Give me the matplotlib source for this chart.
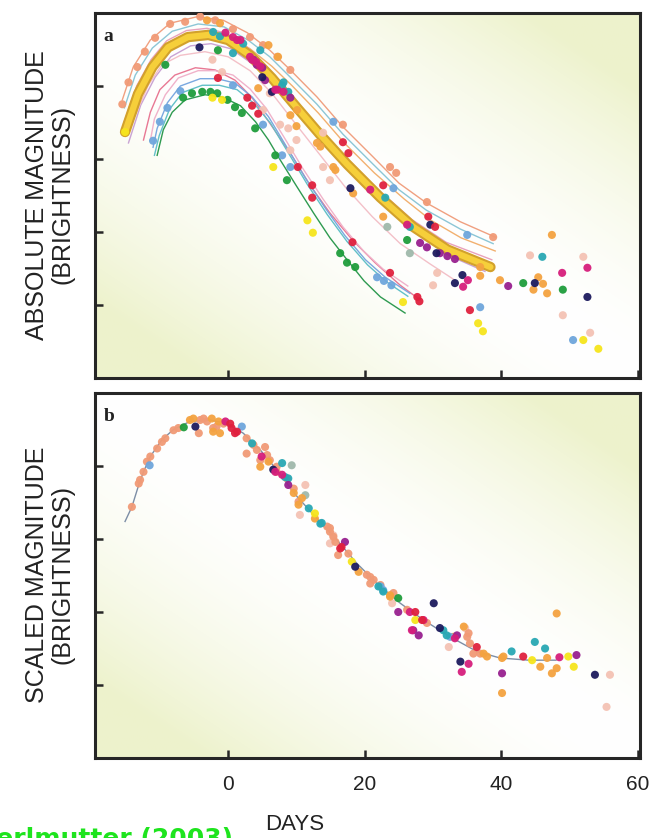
import numpy as np
import matplotlib.pyplot as plt

# ---------------- panel a: fitted light curves (day, absolute magnitude) ----------------
curve_salmon = [(-15.5, -19.81), (-13.9, -20.26), (-11.4, -20.63), (-8.5, -20.86), (-4.5, -20.95),
                (-0.7, -20.90), (2.8, -20.73), (6.1, -20.49), (9.1, -20.22), (13.0, -19.85),
                (16.8, -19.44), (21.2, -19.03), (25.0, -18.67), (29.0, -18.40), (34.0, -18.14), (39.1, -17.93)]
curve_teal_top = [(-15.2, -19.70), (-13.6, -20.15), (-11.1, -20.52), (-8.2, -20.75), (-4.4, -20.85),
                  (-0.6, -20.81), (2.9, -20.63), (6.1, -20.40), (9.1, -20.12), (13.0, -19.75),
                  (16.8, -19.34), (21.2, -18.93), (25.0, -18.58), (29.0, -18.30), (34.0, -18.04), (38.8, -17.84)]
curve_orange = [(-14.9, -19.56), (-13.3, -20.01), (-10.8, -20.40), (-7.9, -20.63), (-4.1, -20.73),
                (-0.3, -20.69), (3.2, -20.51), (6.4, -20.27), (9.4, -20.00), (13.2, -19.63),
                (17.0, -19.22), (21.4, -18.81), (25.8, -18.45), (29.7, -18.16), (34.1, -17.92), (39.1, -17.74)]
curve_pink_hi = [(-15.3, -19.49), (-13.4, -20.00), (-11.3, -20.36), (-9.0, -20.62), (-6.1, -20.76),
                 (-3.1, -20.79), (-0.2, -20.72), (3.0, -20.52), (6.2, -20.21), (9.9, -19.80),
                 (13.3, -19.43), (17.2, -19.03), (22.1, -18.57), (26.9, -18.17), (31.9, -17.86), (38.6, -17.62)]
curve_gold = [(-15.1, -19.37), (-13.2, -19.89), (-11.1, -20.26), (-8.8, -20.53), (-5.9, -20.67),
              (-2.9, -20.70), (0.0, -20.63), (3.2, -20.42), (6.4, -20.11), (10.1, -19.70),
              (13.5, -19.33), (17.4, -18.93), (22.3, -18.47), (27.1, -18.07), (32.1, -17.76), (38.4, -17.52)]
curve_lavender = [(-14.6, -19.22), (-12.8, -19.74), (-10.7, -20.12), (-8.4, -20.40), (-5.5, -20.55),
                  (-2.5, -20.58), (0.4, -20.51), (3.6, -20.30), (6.8, -19.99), (10.5, -19.58),
                  (13.9, -19.21), (17.8, -18.82), (22.7, -18.37), (27.5, -17.98), (32.5, -17.67), (37.6, -17.46)]
curve_pale = [(-13.5, -19.62), (-11.7, -20.01), (-9.7, -20.29), (-7.0, -20.42), (-3.4, -20.47),
              (0.0, -20.40), (3.2, -20.21), (6.4, -19.90), (9.8, -19.49), (13.5, -19.05),
              (17.1, -18.62), (21.1, -18.21), (25.2, -17.84), (29.6, -17.56), (33.2, -17.34)]
curve_red = [(-12.4, -19.26), (-11.4, -19.64), (-10.0, -19.95), (-7.8, -20.15), (-4.8, -20.25),
             (-1.9, -20.22), (1.0, -20.08), (3.5, -19.84), (6.1, -19.49), (9.1, -19.08),
             (12.0, -18.64), (14.9, -18.26), (18.2, -17.89), (21.5, -17.58), (25.2, -17.27), (28.1, -17.07)]
curve_pink_lo = [(-11.4, -19.25), (-10.8, -19.55), (-9.2, -19.88), (-7.3, -20.11), (-4.4, -20.21),
                 (-1.9, -20.21), (0.7, -20.15), (3.2, -19.96), (5.6, -19.69), (8.3, -19.28),
                 (11.0, -18.86), (13.9, -18.45), (16.8, -18.07), (19.8, -17.74), (22.7, -17.49), (26.3, -17.26)]
curve_blue = [(-11.0, -19.16), (-10.4, -19.42), (-8.9, -19.77), (-7.0, -20.00), (-4.1, -20.10),
              (-1.6, -20.10), (1.0, -20.04), (3.5, -19.85), (5.9, -19.58), (8.6, -19.16),
              (11.3, -18.74), (14.2, -18.33), (17.1, -17.95), (20.1, -17.62), (23.0, -17.38), (26.6, -17.16)]
curve_teal = [(-10.8, -19.05), (-10.1, -19.32), (-8.6, -19.68), (-6.7, -19.91), (-3.8, -20.01),
              (-1.3, -20.01), (1.3, -19.95), (3.8, -19.76), (6.2, -19.49), (8.9, -19.07),
              (11.6, -18.65), (14.5, -18.24), (17.4, -17.87), (20.4, -17.55), (23.3, -17.31), (26.3, -17.12)]
curve_green = [(-10.4, -19.05), (-9.5, -19.40), (-8.2, -19.64), (-6.3, -19.81), (-3.4, -19.88),
               (-0.9, -19.85), (1.8, -19.73), (4.0, -19.51), (5.9, -19.26), (7.6, -18.99),
               (10.0, -18.63), (12.5, -18.26), (14.9, -17.92), (17.4, -17.62), (19.9, -17.33),
               (22.3, -17.11), (25.9, -16.89)]

# ---------------- panel a: observations, grouped by colour ----------------
a_salmon = [(-15.5, -19.75), (-14.6, -20.05), (-13.3, -20.26), (-12.2, -20.47), (-10.7, -20.66),
            (-8.5, -20.85), (-6.3, -20.88), (-4.1, -20.95), (-1.9, -20.90), (0.7, -20.78),
            (3.2, -20.67), (5.1, -20.56), (7.2, -20.40), (9.1, -20.22), (16.8, -19.47),
            (23.7, -18.89), (24.6, -18.81), (29.1, -18.41), (38.8, -17.93)]
a_orange = [(-3.1, -20.90), (-1.2, -20.86), (5.9, -20.56), (7.3, -20.40), (4.4, -19.97),
            (9.1, -19.60), (10.0, -19.45), (10.1, -19.67), (13.0, -19.22), (13.5, -19.17),
            (15.4, -18.89), (15.7, -18.85), (18.3, -18.53), (22.7, -18.21), (36.9, -17.52),
            (36.9, -17.40), (39.8, -17.34), (45.4, -17.38), (46.1, -17.29), (44.7, -17.21),
            (46.7, -17.16), (47.4, -17.96)]
a_yellow = [(-15.1, -19.37), (-2.3, -19.84), (-0.9, -19.81), (6.6, -18.89), (11.6, -18.16),
            (12.4, -17.99), (25.6, -17.04), (36.6, -16.75), (37.3, -16.64), (52.0, -16.52),
            (54.2, -16.40)]
a_green = [(-9.2, -20.29), (-1.5, -20.49), (-6.6, -19.84), (-5.3, -19.90), (-3.8, -19.92),
           (-2.6, -19.92), (-1.6, -19.90), (-0.1, -19.81), (1.0, -19.71), (2.0, -19.63),
           (3.95, -19.42), (6.9, -19.05), (8.6, -18.71), (16.4, -17.71), (17.4, -17.58),
           (18.6, -17.52), (26.2, -17.89), (43.2, -17.30), (49.0, -17.21)]
a_red = [(-1.5, -20.11), (2.8, -19.84), (3.5, -19.73), (4.4, -19.62), (10.2, -18.89),
         (12.3, -18.64), (12.3, -18.47), (18.2, -17.86), (16.8, -19.23), (17.6, -19.08),
         (22.7, -18.64), (23.7, -17.44), (27.7, -17.11), (28.0, -17.05), (29.3, -18.21),
         (30.3, -18.07), (35.4, -16.93)]
a_magenta = [(-0.4, -20.73), (0.7, -20.67), (1.3, -20.63), (1.8, -20.63), (3.2, -20.40),
             (3.5, -20.36), (4.1, -20.33), (4.7, -20.27), (6.9, -19.95), (7.2, -19.95),
             (8.1, -19.92), (20.8, -18.58), (26.2, -18.10), (35.1, -17.34), (34.4, -17.25),
             (48.9, -17.44), (52.6, -17.51)]
a_purple = [(3.7, -20.36), (4.2, -20.29), (5.0, -20.25), (5.4, -20.08), (9.1, -19.84),
            (28.1, -17.85), (29.1, -17.79), (31.0, -17.71), (32.1, -17.67), (33.2, -17.63),
            (41.0, -17.26)]
a_navy = [(-4.2, -20.53), (5.0, -20.12), (6.4, -19.92), (17.9, -18.60), (29.6, -18.10),
          (30.5, -17.71), (33.2, -17.30), (34.3, -17.41), (44.9, -17.30), (52.6, -17.11)]
a_lightblue = [(-11.0, -19.25), (-10.0, -19.51), (-8.9, -19.70), (-7.0, -19.93), (0.7, -20.01),
               (5.1, -19.47), (7.9, -19.05), (9.1, -18.89), (21.8, -17.38), (22.8, -17.33),
               (23.9, -17.27), (15.4, -19.51), (24.2, -18.60), (35.0, -17.96), (36.9, -16.97),
               (50.5, -16.52)]
a_teal = [(-2.2, -20.74), (-1.2, -20.68), (0.7, -20.45), (2.2, -20.58), (4.7, -20.49),
          (7.9, -20.01), (8.1, -20.05), (8.8, -19.92), (23.0, -18.47), (26.6, -18.07),
          (46.0, -17.66)]
a_pale = [(-2.3, -20.36), (-0.9, -20.19), (5.1, -19.67), (6.1, -19.90), (7.6, -19.47),
          (9.1, -19.12), (8.8, -19.42), (10.0, -19.26), (13.9, -19.36), (13.9, -18.89),
          (14.9, -18.71), (30.6, -17.44), (30.0, -17.27), (49.0, -16.86), (53.0, -16.62),
          (52.0, -17.66), (44.2, -17.68)]
a_sage = [(23.3, -18.07), (26.6, -17.71)]

# ---------------- panel b: template curve and stretch-corrected points ----------------
tmpl_day = [-15.1, -14.1, -13.1, -12.4, -11.4, -9.7, -8.0, -5.6, -2.6, -0.2, 2.2, 4.7, 7.1,
            10.1, 13.0, 15.9, 18.8, 21.8, 25.2, 28.6, 32.5, 36.4, 39.8, 44.0, 48.0]
tmpl_mag = [-19.24, -19.44, -19.74, -19.92, -20.13, -20.36, -20.50, -20.61, -20.63, -20.58,
            -20.45, -20.22, -19.95, -19.58, -19.28, -18.99, -18.67, -18.39, -18.12, -17.89,
            -17.66, -17.46, -17.37, -17.34, -17.34]

b_salmon = [(-14.1, -19.44), (-13.1, -19.76), (-12.9, -19.81), (-12.4, -19.92), (-11.9, -20.06),
            (-11.4, -20.13), (-10.4, -20.24), (-9.7, -20.33), (-9.2, -20.38), (-8.0, -20.49),
            (-7.3, -20.52), (-4.3, -20.45), (-4.1, -20.63), (-3.6, -20.65), (-3.1, -20.61),
            (-2.2, -20.52), (-1.7, -20.54), (-0.7, -20.58), (2.7, -20.38), (2.7, -20.17),
            (3.7, -20.29), (4.2, -20.22), (4.7, -20.08), (5.4, -20.26), (5.7, -20.15),
            (6.1, -20.08), (7.1, -19.92), (7.1, -19.99), (8.6, -19.83), (9.6, -19.69),
            (10.3, -19.51), (14.5, -19.17), (14.9, -19.10), (14.9, -19.15), (15.4, -19.03),
            (15.7, -18.96), (16.1, -18.78), (17.6, -18.80), (20.3, -18.51), (20.8, -18.48),
            (20.8, -18.39), (21.3, -18.44), (22.3, -18.37), (24.2, -18.26), (26.2, -18.03),
            (29.1, -17.85), (35.0, -17.66), (35.2, -17.71), (35.4, -17.57), (35.9, -17.43),
            (36.9, -17.43)]
b_orange = [(-5.6, -20.63), (-5.1, -20.65), (-2.4, -20.65), (-1.4, -20.61), (-1.2, -20.45),
            (-2.2, -20.47), (4.7, -19.99), (5.9, -20.06), (9.6, -19.63), (10.3, -19.47),
            (10.8, -19.56), (12.7, -19.28), (19.1, -18.55), (23.7, -18.23), (23.7, -18.21),
            (33.0, -17.66), (34.5, -17.80), (37.4, -17.43), (37.9, -17.39), (40.3, -17.39),
            (40.1, -17.37), (48.1, -17.98), (45.7, -17.25), (46.7, -17.37), (47.4, -17.16),
            (48.1, -17.23), (40.1, -16.89)]
b_green = [(-6.5, -20.53), (24.9, -18.19)]
b_navy = [(-4.8, -20.54), (6.6, -19.95), (18.6, -18.62), (30.1, -18.12), (31.0, -17.78),
          (34.0, -17.32), (53.7, -17.14)]
b_magenta = [(-0.4, -20.61), (4.9, -20.13), (6.9, -19.92), (7.9, -19.88), (26.6, -18.00),
             (26.9, -17.75), (28.6, -17.89), (33.2, -17.64), (34.2, -17.18), (35.2, -17.29),
             (48.5, -17.38)]
b_red = [(0.3, -20.58), (0.5, -20.52), (1.0, -20.45), (1.3, -20.47), (16.4, -18.87),
         (16.6, -18.89), (27.4, -18.00), (28.4, -17.89), (36.4, -17.52), (43.2, -17.39)]
b_lightblue = [(-11.5, -20.01), (2.0, -20.54), (22.3, -18.35), (22.7, -18.30), (32.5, -17.66)]
b_teal = [(3.5, -20.31), (7.9, -20.04), (8.3, -19.85), (8.8, -19.83), (11.8, -19.42),
          (13.5, -19.21), (13.7, -19.22), (22.0, -18.35), (22.7, -18.28), (31.5, -17.75),
          (32.0, -17.68), (44.9, -17.59), (46.4, -17.50), (41.5, -17.46)]
b_purple = [(8.8, -19.74), (17.1, -18.96), (24.9, -18.00), (27.1, -17.75), (27.9, -17.68),
            (33.5, -17.68), (40.1, -17.16), (51.0, -17.41)]
b_yellow = [(12.7, -19.35), (18.1, -18.69), (27.4, -17.89), (44.5, -17.34), (49.8, -17.39),
            (50.6, -17.25)]
b_pale = [(11.3, -19.74), (10.5, -19.33), (14.9, -18.94), (15.4, -19.05), (24.0, -18.12),
          (34.7, -17.78), (32.3, -17.52), (55.9, -17.14), (55.4, -16.70)]
b_sage = [(9.3, -20.01), (11.3, -19.60)]

# ---------------- styling ----------------
dot_colors = {
    'salmon': '#f19a76', 'orange': '#f4a340', 'yellow': '#f6e51c', 'green': '#1f9d3c',
    'red': '#e0213e', 'magenta': '#d61e7c', 'purple': '#98208f', 'navy': '#1d1b5e',
    'lightblue': '#6fa6dc', 'teal': '#29a8b4', 'pale': '#f4c2b4', 'sage': '#9fb9ab',
}
a_points = {'pale': a_pale, 'sage': a_sage, 'salmon': a_salmon, 'orange': a_orange,
            'lightblue': a_lightblue, 'teal': a_teal, 'green': a_green, 'yellow': a_yellow,
            'purple': a_purple, 'navy': a_navy, 'magenta': a_magenta, 'red': a_red}
b_points = {'pale': b_pale, 'sage': b_sage, 'salmon': b_salmon, 'orange': b_orange,
            'lightblue': b_lightblue, 'teal': b_teal, 'green': b_green, 'yellow': b_yellow,
            'purple': b_purple, 'navy': b_navy, 'magenta': b_magenta, 'red': b_red}
thin_curves = [(curve_salmon, '#f0a080'), (curve_teal_top, '#8cc6d6'), (curve_orange, '#f2b070'),
               (curve_pink_hi, '#e9a2bb'), (curve_lavender, '#c9a3d4'), (curve_pale, '#f3c0c8'),
               (curve_red, '#e87894'), (curve_pink_lo, '#f0b2ca'), (curve_blue, '#7aa8e0'),
               (curve_teal, '#62c0c8'), (curve_green, '#2e9a50')]

plt.rcParams['font.family'] = ['Liberation Sans', 'DejaVu Sans']

fig = plt.figure(figsize=(6.61, 8.38), dpi=100)
ax_a = fig.add_axes([95 / 661, 1 - 378 / 838, 545 / 661, 365 / 838])
ax_b = fig.add_axes([95 / 661, 1 - 758 / 838, 545 / 661, 365 / 838])


def paint_background(ax):
    # faint yellow-green tint in two opposite corners, white along the other diagonal
    g = np.linspace(0, 1, 200)
    uu, vv = np.meshgrid(g, g)
    w = np.clip(np.abs(uu + vv - 1) * 1.25, 0, 1) ** 1.7
    corner = np.array([0.93, 0.95, 0.80])
    img = 1 - w[..., None] * (1 - corner)
    ax.imshow(img, extent=(0, 1, 0, 1), transform=ax.transAxes, origin='lower',
              aspect='auto', zorder=0, interpolation='bilinear')


def dress(ax, letter):
    paint_background(ax)
    ax.set_xlim(-19.5, 60.3)
    ax.set_ylim(-16.0, -21.0)
    ax.set_xticks([0, 20, 40, 60])
    ax.set_yticks([-20, -19, -18, -17])
    ax.tick_params(direction='in', length=6, width=1.8, color='#262626',
                   labelleft=False, labelbottom=False)
    for s in ax.spines.values():
        s.set_linewidth(2.2)
        s.set_color('#262626')
    ax.text(0.016, 0.922, letter, transform=ax.transAxes, fontsize=14, fontweight='bold',
            family='Liberation Serif', color='#222222', zorder=6)


def scatter_groups(ax, groups):
    for name, pts in groups.items():
        d, m = zip(*pts)
        ax.scatter(d, m, s=34, color=dot_colors[name], edgecolors='none', alpha=0.95, zorder=4)


dress(ax_a, 'a')
dress(ax_b, 'b')

# panel a: individual supernova fits, thick gold band for the reference fit
for pts, col in thin_curves:
    d, m = zip(*pts)
    ax_a.plot(d, m, color=col, lw=1.0, zorder=2)
gd, gm = zip(*curve_gold)
ax_a.plot(gd, gm, color='#d2a12c', lw=7.5, solid_capstyle='round', zorder=3)
ax_a.plot(gd, gm, color='#f6cf3a', lw=4.5, solid_capstyle='round', zorder=3)
scatter_groups(ax_a, a_points)

# panel b: one template after stretch correction
ax_b.plot(tmpl_day, tmpl_mag, color='#7d8ea6', lw=1.0, zorder=2)
scatter_groups(ax_b, b_points)

ax_b.tick_params(labelbottom=True, labelsize=15, labelcolor='#222222', pad=12)

fig.text(50 / 661, 1 - 195 / 838, 'ABSOLUTE MAGNITUDE\n(BRIGHTNESS)', rotation=90,
         ha='center', va='center', multialignment='center', fontsize=18,
         linespacing=1.1, color='#222222')
fig.text(50 / 661, 1 - 575 / 838, 'SCALED MAGNITUDE\n(BRIGHTNESS)', rotation=90,
         ha='center', va='center', multialignment='center', fontsize=18,
         linespacing=1.1, color='#222222')
fig.text(295 / 661, 1 - 824 / 838, 'DAYS', ha='center', va='center', fontsize=16,
         color='#222222')
fig.text(233 / 661, -8 / 838, 'Perlmutter (2003)', ha='right', va='baseline',
         fontsize=18, fontweight='bold', family='DejaVu Sans', color='#1ee41e')

fig.savefig('out.png', dpi=100, facecolor='white')
